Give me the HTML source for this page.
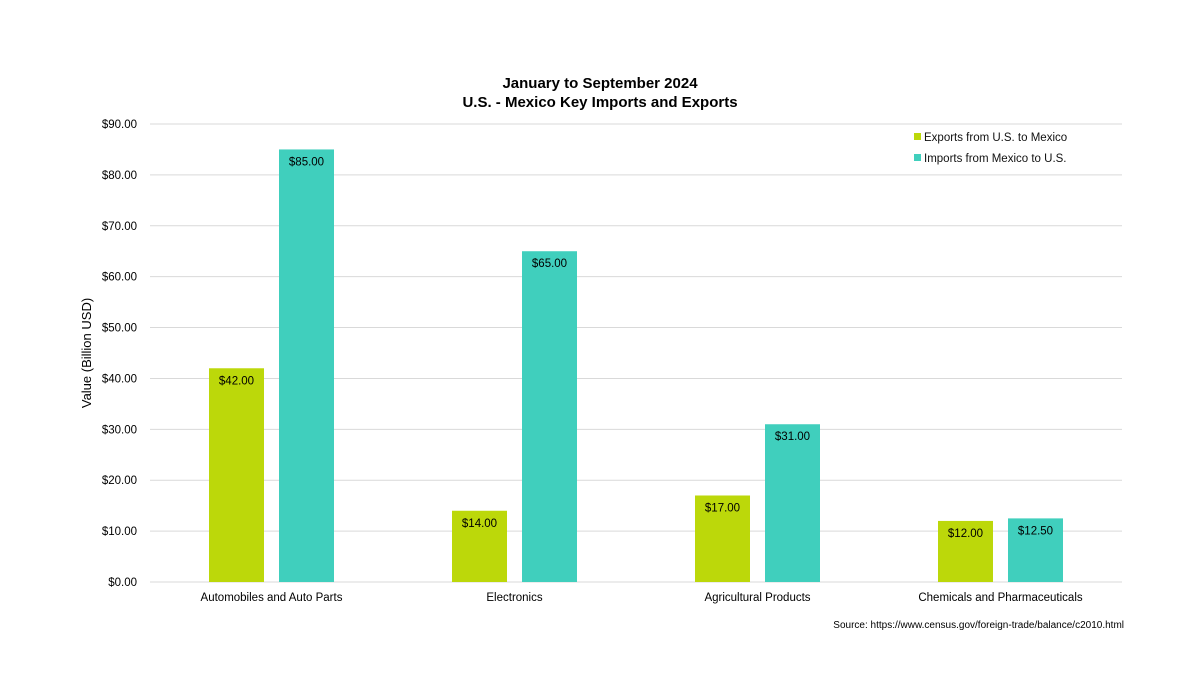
<!DOCTYPE html>
<html><head><meta charset="utf-8"><style>
body{margin:0;background:#fff;}
svg{display:block;font-family:"Liberation Sans",sans-serif;}
</style></head><body>
<svg id="chart" width="1200" height="675" viewBox="0 0 1200 675">
<text x="600" y="88" text-anchor="middle" font-size="15" font-weight="bold" fill="#000">January to September 2024</text>
<text x="600" y="107" text-anchor="middle" font-size="15" font-weight="bold" fill="#000">U.S. - Mexico Key Imports and Exports</text>
<g id="grid"></g><g id="bars"></g><g id="labels"></g>
<text transform="translate(91,353) rotate(-90)" text-anchor="middle" font-size="13" fill="#000">Value (Billion USD)</text>
<g>
<rect x="914" y="133" width="7" height="7" fill="#bcd80a"/>
<text x="924" y="141" font-size="11.5" fill="#111">Exports from U.S. to Mexico</text>
<rect x="914" y="154" width="7" height="7" fill="#40cfbd"/>
<text x="924" y="162" font-size="11.5" fill="#111">Imports from Mexico to U.S.</text>
</g>
<text x="1124" y="628" text-anchor="end" font-size="10" fill="#000">Source: https://www.census.gov/foreign-trade/balance/c2010.html</text>
</svg>
<script>
const categories=["Automobiles and Auto Parts","Electronics","Agricultural Products","Chemicals and Pharmaceuticals"];
const exportsVals=[42,14,17,12];
const importsVals=[85,65,31,12.5];
const yTicks=[0,10,20,30,40,50,60,70,80,90];
const NS="http://www.w3.org/2000/svg";
const x0=150,x1=1122,yb=582,yt=124,ymax=90;
const y=v=>yb-(v/ymax)*(yb-yt);
const bandW=(x1-x0)/categories.length;
const cx=i=>x0+bandW*(i+0.5);
function mk(tag,attrs,parent){const e=document.createElementNS(NS,tag);for(const k in attrs)e.setAttribute(k,attrs[k]);document.getElementById(parent).appendChild(e);return e;}
yTicks.forEach(t=>{
 const l=mk('line',{x1:x0,x2:x1,y1:y(t),y2:y(t),stroke:'#d9d9d9','stroke-width':1},'grid');
 
 
 const tx=mk('text',{x:137,y:y(t)+4,'text-anchor':'end','font-size':11.5,fill:'#000'},'grid');
 tx.textContent='$'+t.toFixed(2);
 
 
});
const bw=55,gap=15;
categories.forEach((c,i)=>{
 [[exportsVals[i],'#bcd80a',-1,'export'],[importsVals[i],'#40cfbd',1,'import']].forEach(([v,col,s,nm])=>{
  const bx=s<0?cx(i)-gap/2-bw:cx(i)+gap/2;
  const r=mk('rect',{x:bx,y:y(v),width:bw,height:yb-y(v),fill:col},'bars');
  
  
  const t=mk('text',{x:bx+bw/2,y:y(v)+16,'text-anchor':'middle','font-size':11.5,fill:'#000'},'labels');
  t.textContent='$'+v.toFixed(2);
  
  
 });
 const ct=mk('text',{x:cx(i),y:601,'text-anchor':'middle','font-size':11.5,fill:'#000'},'labels');
 ct.textContent=c;
 
 
});
</script>
</body></html>
